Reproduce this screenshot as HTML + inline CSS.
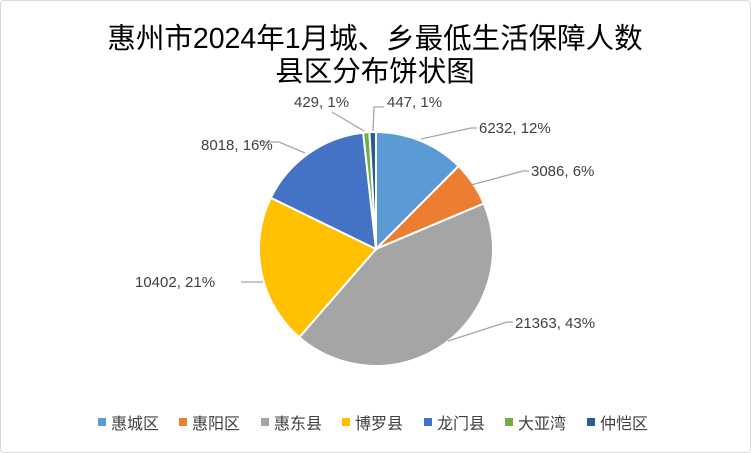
<!DOCTYPE html>
<html><head><meta charset="utf-8"><style>
body{margin:0;background:#fff}
#c{position:relative;width:749px;height:451px;border:1px solid #d9d9d9;border-radius:4px;overflow:hidden;font-family:"Liberation Sans","Noto Sans CJK SC",sans-serif}
</style></head><body><div id="c">
<svg id="s" width="749" height="451" xmlns="http://www.w3.org/2000/svg">
<text x="374" y="47" text-anchor="middle" font-size="28.5" fill="#000" font-family="Liberation Sans,Noto Sans CJK SC,sans-serif">惠州市2024年1月城、乡最低生活保障人数</text>
<text x="374" y="80" text-anchor="middle" font-size="28.5" fill="#000" font-family="Liberation Sans,Noto Sans CJK SC,sans-serif">县区分布饼状图</text>
<g id="p"></g>
<g stroke="#a6a6a6" stroke-width="1.3" fill="none">
<polyline points="420,138 470,127 476,127"/>
<polyline points="470,184 522,170 528,170"/>
<polyline points="447,340 506,321 512,321"/>
<polyline points="262,281 240,281"/>
<polyline points="304,152 278,141 258,141"/>
<polyline points="363,130 331,111"/>
<polyline points="372,130 373,106 383,106"/>
</g>
<g font-size="15" fill="#404040" font-family="Liberation Sans,sans-serif">
<text x="478" y="132">6232, 12%</text>
<text x="530" y="175">3086, 6%</text>
<text x="514" y="327">21363, 43%</text>
<text x="134" y="286">10402, 21%</text>
<text x="200" y="149">8018, 16%</text>
<text x="293" y="106">429, 1%</text>
<text x="386" y="106">447, 1%</text>
</g>
<g font-size="16" fill="#404040" font-family="Liberation Sans,Noto Sans CJK SC,sans-serif">
<rect x="97" y="417" width="8" height="8" fill="#5B9BD5"/><text x="110" y="428">惠城区</text>
<rect x="178" y="417" width="8" height="8" fill="#ED7D31"/><text x="191" y="428">惠阳区</text>
<rect x="260" y="417" width="8" height="8" fill="#A5A5A5"/><text x="273" y="428">惠东县</text>
<rect x="341" y="417" width="8" height="8" fill="#FFC000"/><text x="354" y="428">博罗县</text>
<rect x="423" y="417" width="8" height="8" fill="#4472C4"/><text x="436" y="428">龙门县</text>
<rect x="504" y="417" width="8" height="8" fill="#70AD47"/><text x="517" y="428">大亚湾</text>
<rect x="586" y="417" width="8" height="8" fill="#255E91"/><text x="599" y="428">仲恺区</text>
</g>
</svg></div>
<script>
var d=[6232,3086,21363,10402,8018,429,447],c=["#5B9BD5","#ED7D31","#A5A5A5","#FFC000","#4472C4","#70AD47","#255E91"];
var t=d.reduce((a,b)=>a+b),a=0,cx=375,cy=248,r=117,h="";
for(var i=0;i<d.length;i++){var a2=a+d[i]/t*2*Math.PI;
var x1=cx+r*Math.sin(a),y1=cy-r*Math.cos(a),x2=cx+r*Math.sin(a2),y2=cy-r*Math.cos(a2);
h+='<path d="M'+cx+','+cy+' L'+x1+','+y1+' A'+r+','+r+' 0 '+((a2-a)>Math.PI?1:0)+' 1 '+x2+','+y2+' Z" fill="'+c[i]+'" stroke="#fff" stroke-width="2"/>';a=a2;}
document.getElementById("p").innerHTML=h;
</script></body></html>
